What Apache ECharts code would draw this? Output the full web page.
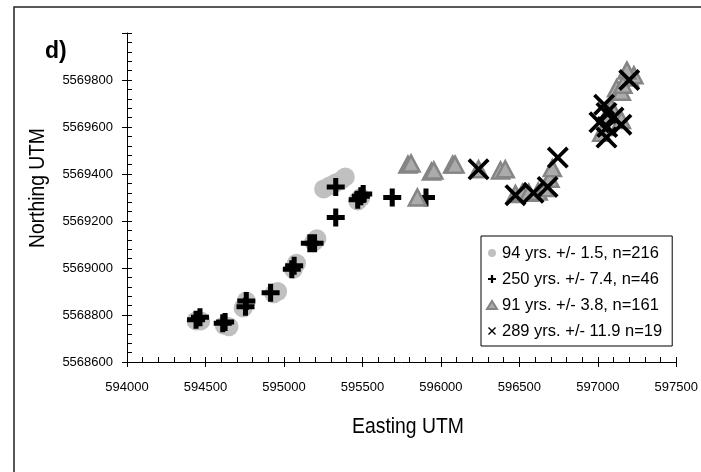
<!DOCTYPE html>
<html>
<head>
<meta charset="utf-8">
<script src="https://cdn.jsdelivr.net/npm/echarts@6/dist/echarts.min.js"></script>
<style>html,body{margin:0;padding:0;background:#fff}#c{width:701px;height:472px}</style>
</head>
<body>
<div id="c"></div>
<script>
// ---- data ----
const seriesNames = ['94 yrs. +/- 1.5, n=216', '250 yrs. +/- 7.4, n=46', '91 yrs. +/- 3.8, n=161', '289 yrs. +/- 11.9 n=19'];

const circleX = [594440, 594470, 594620, 594650, 594740, 594760, 594935, 594960, 595060, 595080, 595190, 595210, 595253, 595290, 595328, 595366, 595391, 595470, 595490];
const circleY = [5568775, 5568775, 5568755, 5568750, 5568830, 5568860, 5568890, 5568900, 5568995, 5569020, 5569110, 5569125, 5569336, 5569349, 5569362, 5569374, 5569387, 5569285, 5569300];

const crossX = [594440, 594465, 594610, 594625, 594755, 594760, 594915, 595050, 595065, 595165, 595195, 595330, 595330, 595470, 595490, 595505, 595690, 595905];
const crossY = [5568780, 5568790, 5568765, 5568770, 5568835, 5568860, 5568895, 5568995, 5569010, 5569105, 5569105, 5569345, 5569215, 5569290, 5569305, 5569315, 5569300, 5569300];

const triX = [595790, 595810, 595940, 595955, 596075, 596090, 596240, 596380, 596410, 595850, 596475, 596520, 596560, 596620, 596660, 596695, 596710, 597025, 597045, 597085, 597065, 597150, 597120, 597150, 597200, 597230, 597185, 597160];
const triY = [5569440, 5569445, 5569410, 5569415, 5569440, 5569440, 5569420, 5569415, 5569420, 5569300, 5569315, 5569320, 5569320, 5569325, 5569340, 5569380, 5569425, 5569575, 5569600, 5569685, 5569650, 5569630, 5569765, 5569750, 5569810, 5569820, 5569840, 5569780];

const xmarkX = [596240, 596475, 596590, 596680, 596745, 597055, 597040, 597060, 597150, 597055, 597010, 597100, 597200];
const xmarkY = [5569420, 5569310, 5569320, 5569345, 5569470, 5569660, 5569695, 5569600, 5569610, 5569555, 5569620, 5569640, 5569800];

const xTicks = {min: 594000, max: 597500, interval: 500};
const yTicks = {min: 5568600, max: 5570000, interval: 200};
const xTitle = 'Easting UTM';
const yTitle = 'Northing UTM';

// ---- chart ----
const zip = (xs, ys) => xs.map((x, i) => [x, ys[i]]);
const PLUS = 'path://M3.6,0H6.4V3.6H10V6.4H6.4V10H3.6V6.4H0V3.6H3.6Z';
const XMARK = 'path://M0,1.2L1.2,0L5,3.8L8.8,0L10,1.2L6.2,5L10,8.8L8.8,10L5,6.2L1.2,10L0,8.8L3.8,5Z';
const FONT = '"Liberation Sans", Arial, sans-serif';

const chart = echarts.init(document.getElementById('c'));
const baseX = {type: 'value', min: xTicks.min, max: xTicks.max, interval: xTicks.interval, position: 'bottom', splitLine: {show: false}};
const baseY = {type: 'value', min: yTicks.min, max: yTicks.max, interval: yTicks.interval, position: 'left', splitLine: {show: false}};

chart.setOption({
  animation: false,
  backgroundColor: '#fff',
  grid: {left: 127, top: 33, right: 18, bottom: 110, containLabel: false},
  xAxis: [
    Object.assign({}, baseX, {
      axisLine: {lineStyle: {color: '#000', width: 1}},
      axisTick: {inside: true, length: 5, lineStyle: {color: '#000'}},
      minorTick: {show: true, splitNumber: 5, length: 5, lineStyle: {color: '#000'}},
      axisLabel: {margin: 19, fontFamily: FONT, fontSize: 13, color: '#000', formatter: v => String(v)}
    }),
    Object.assign({}, baseX, {
      axisLine: {show: false}, axisLabel: {show: false},
      axisTick: {inside: false, length: 5, lineStyle: {color: '#000'}}
    })
  ],
  yAxis: [
    Object.assign({}, baseY, {
      axisLine: {lineStyle: {color: '#000', width: 1}},
      axisTick: {inside: true, length: 5, lineStyle: {color: '#000'}},
      minorTick: {show: true, splitNumber: 5, length: 5, lineStyle: {color: '#000'}},
      axisLabel: {margin: 14, fontFamily: FONT, fontSize: 13, color: '#000', formatter: v => v >= yTicks.max ? '' : String(v)}
    }),
    Object.assign({}, baseY, {
      axisLine: {show: false}, axisLabel: {show: false},
      axisTick: {inside: false, length: 5, lineStyle: {color: '#000'}}
    })
  ],
  legend: {
    orient: 'vertical', left: 481, top: 236,
    backgroundColor: '#fff', borderColor: '#000', borderWidth: 1, borderRadius: 0,
    padding: [8, 10, 6, 5], itemGap: 8, itemWidth: 10, itemHeight: 8,
    textStyle: {fontFamily: FONT, fontSize: 16.5, lineHeight: 18, color: '#000'},
    data: seriesNames
  },
  graphic: [
    {type: 'rect', shape: {x: 14, y: 7, width: 720, height: 500}, style: {fill: 'none', stroke: '#222', lineWidth: 1.5}, silent: true, z: -10},
    {type: 'text', left: 45, top: 40, style: {text: 'd)', fontFamily: FONT, fontWeight: 'bold', fontSize: 23, fill: '#000'}},
    {type: 'text', x: 408, y: 427, scaleX: 0.88, style: {text: xTitle, fontFamily: FONT, fontSize: 22, fill: '#000', align: 'center', verticalAlign: 'middle'}},
    {type: 'text', x: 38, y: 188, rotation: Math.PI / 2, scaleX: 0.875, style: {text: yTitle, fontFamily: FONT, fontSize: 22, fill: '#000', align: 'center', verticalAlign: 'middle'}}
  ],
  series: [
    {name: seriesNames[0], type: 'scatter', symbol: 'circle', symbolSize: 19,
     itemStyle: {color: '#c0c0c0', opacity: 1}, data: zip(circleX, circleY)},
    {name: seriesNames[1], type: 'scatter', symbol: PLUS, symbolSize: 18,
     itemStyle: {color: '#000', opacity: 1}, data: zip(crossX, crossY)},
    {name: seriesNames[2], type: 'scatter', symbol: 'triangle', symbolSize: [17, 16],
     itemStyle: {color: '#ababab', borderColor: '#858585', borderWidth: 2.5, opacity: 1}, data: zip(triX, triY)},
    {name: seriesNames[3], type: 'scatter', symbol: XMARK, symbolSize: 22,
     itemStyle: {color: '#000', opacity: 1}, data: zip(xmarkX, xmarkY)}
  ]
});
</script>
</body>
</html>
